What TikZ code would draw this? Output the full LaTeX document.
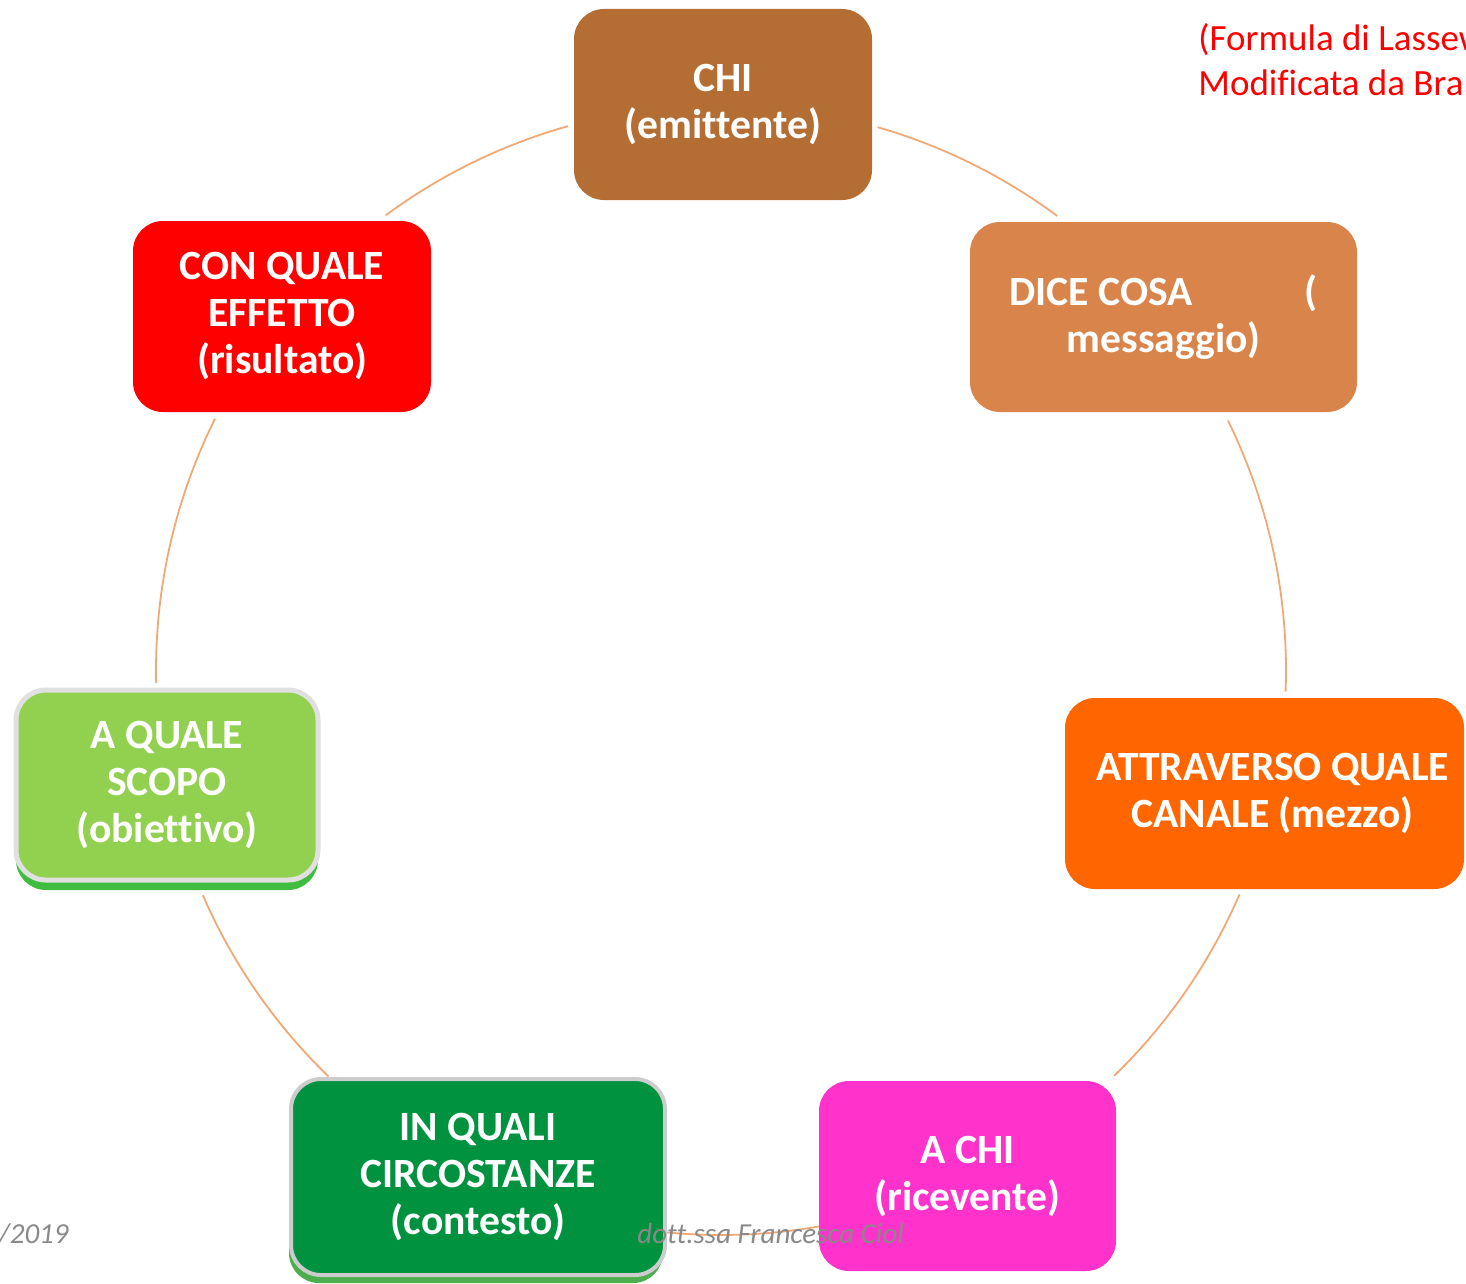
\documentclass[tikz,border=0pt]{standalone}
\usepackage{fontspec}
\setmainfont{Carlito}[Ligatures=CommonOff]
\usepackage{tikz}
\usetikzlibrary{positioning,shadows}

\definecolor{cchi}{RGB}{180,110,52}
\definecolor{cdice}{RGB}{217,132,74}
\definecolor{ccanale}{RGB}{255,102,0}
\definecolor{cachi}{RGB}{255,51,204}
\definecolor{ccirco}{RGB}{0,146,63}
\definecolor{cscopo}{RGB}{146,208,80}
\definecolor{ceffetto}{RGB}{255,0,0}
\definecolor{cring}{RGB}{242,168,116}
\definecolor{cpiede}{RGB}{137,137,137}

\tikzset{
  tappa/.style={rectangle, rounded corners=15pt, inner sep=0pt, align=center,
    text=white, font=\bfseries\fontsize{20.8}{23.5}\selectfont},
  bordo/.style={draw=black!20, line width=2pt},
  ring/.style={draw=cring, line width=0.9pt},
  piede/.style={text=cpiede, inner sep=0pt, font=\itshape\fontsize{14.5}{16}\selectfont},
  nota/.style={text=red, inner sep=0pt, font=\fontsize{18.5}{22.5}\selectfont}
}

\begin{document}
\begin{tikzpicture}[x=0.5pt,y=-0.5pt]
	\useasboundingbox (0,0) rectangle (1466,1284);
	% ring behind the boxes
	\coordinate (hub) at (721,670);
	\foreach \da/\a in {-126.4/-105.7, -73.9/-53.5, -26.2/2.2, 23.4/45.9,
	                    79.9/95.5, 134/156.5, 178.7/206.4}
		\draw[ring] ([shift={(\da:565)}]hub) arc[start angle=\da, end angle=\a, radius=565];
	% the seven questions
	\node[tappa, fill=cchi, minimum width=149pt, minimum height=95.5pt] (chi) at (723,104.5) {CHI\\(emittente)};
	\node[tappa, fill=cdice, minimum width=193.5pt, minimum height=95pt] (dice) at (1163.5,317)
		{\makebox[154pt]{DICE COSA\hfill(}\\messaggio)};
	\node[tappa, fill=ccanale, minimum width=199.5pt, minimum height=95.5pt] (canale) at (1264.5,793.5)
		{\hspace*{8pt}ATTRAVERSO QUALE\\\hspace*{8pt}CANALE (mezzo)};
	\node[tappa, fill=cachi, minimum width=148.5pt, minimum height=95pt] (achi) at (967.5,1176) {A CHI\\(ricevente)};
	\node[tappa, bordo, fill=ccirco, minimum width=187pt, minimum height=98pt,
		drop shadow={shadow xshift=-1pt, shadow yshift=-4pt, fill=green!55!black, opacity=0.7}]
		(circo) at (478,1177) {IN QUALI\\CIRCOSTANZE\\(contesto)};
	\node[tappa, draw=black!12, line width=2.5pt, fill=cscopo, minimum width=151pt, minimum height=95pt,
		drop shadow={shadow xshift=0pt, shadow yshift=-5pt, fill=green!65!black, opacity=0.75}]
		(scopo) at (167,785) {A QUALE\\SCOPO\\(obiettivo)};
	\node[tappa, fill=ceffetto, minimum width=149pt, minimum height=95.5pt] (effetto) at (282,316.5)
		{CON QUALE\\EFFETTO\\(risultato)};
	% note and footer
	\node[nota, anchor=base west] (nota1) at (1198,51) {(Formula di Lassew};
	\node[nota, anchor=base west] (nota2) at (1198,96) {Modificata da Bra};
	\node[piede, anchor=base east] (data) at (69,1243) {/2019};
	\node[piede, anchor=base west] (autrice) at (637,1243) {dott.ssa Francesca Ciol};
\end{tikzpicture}
\end{document}
